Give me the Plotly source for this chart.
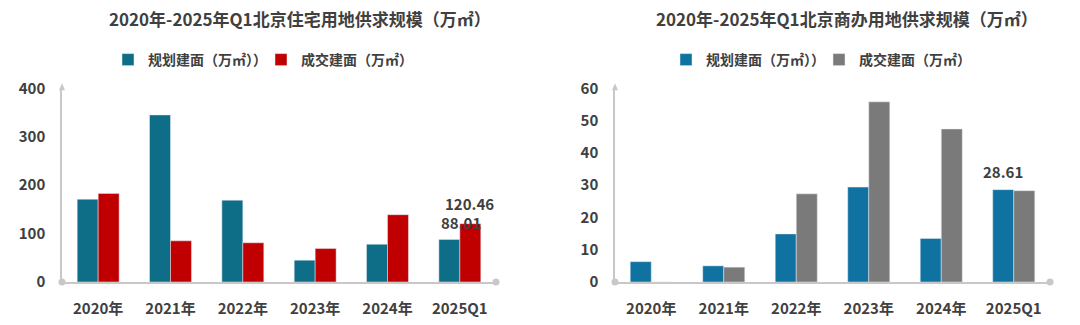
import plotly.graph_objects as go

categories = ["2020年", "2021年", "2022年", "2023年", "2024年", "2025Q1"]
res_plan = [171, 345, 169, 45, 78, 88.01]
res_deal = [183, 85, 81, 69, 139, 120.46]
com_plan = [6.3, 5.0, 14.9, 29.4, 13.5, 28.61]
com_deal = [0, 4.6, 27.3, 55.8, 47.4, 28.3]

title_left = "2020年-2025年Q1北京住宅用地供求规模（万㎡）"
title_right = "2020年-2025年Q1北京商办用地供求规模（万㎡）"
name_plan = "规划建面（万㎡））"
name_deal = "成交建面（万㎡）"

TXT = "#404040"
FONT = "Noto Sans CJK SC"
AX = "#c8c8c8"

fig = go.Figure()
fig.add_trace(go.Bar(x=categories, y=res_plan, name=name_plan, marker_color="#0e6e88",
                     xaxis="x", yaxis="y", legend="legend"))
fig.add_trace(go.Bar(x=categories, y=res_deal, name=name_deal, marker_color="#c00000",
                     xaxis="x", yaxis="y", legend="legend"))
fig.add_trace(go.Bar(x=categories, y=com_plan, name=name_plan, marker_color="#0f72a0",
                     xaxis="x2", yaxis="y2", legend="legend2"))
fig.add_trace(go.Bar(x=categories, y=com_deal, name=name_deal, marker_color="#7a7a7a",
                     xaxis="x2", yaxis="y2", legend="legend2"))

H = 325.0
W = 1080.0
y0 = 1 - 282 / H
y1 = 1 - 88.3 / H

tickfont = dict(family=FONT, size=15, color=TXT, weight="bold")
xcommon = dict(type="category", range=[-0.5, 5.5], showline=True, linecolor=AX, linewidth=1.5,
               ticks="", tickfont=tickfont, showgrid=False, zeroline=False, fixedrange=True,
               automargin=False, ticklabelstandoff=12)
ycommon = dict(showline=True, linecolor=AX, linewidth=1.5, ticks="", tickfont=tickfont,
               showgrid=False, zeroline=False, domain=[y0, y1], automargin=False,
               ticklabelstandoff=12)

legfont = dict(family=FONT, size=14, color=TXT, weight="bold")

fig.update_layout(
    width=1080, height=325,
    margin=dict(l=0, r=0, t=0, b=0, autoexpand=False),
    paper_bgcolor="white", plot_bgcolor="white",
    barmode="group", bargap=0.42, bargroupgap=0,
    xaxis=dict(xcommon, domain=[62 / W, 496 / W], anchor="y"),
    yaxis=dict(ycommon, range=[0, 400], dtick=100, anchor="x"),
    xaxis2=dict(xcommon, domain=[615 / W, 1050 / W], anchor="y2"),
    yaxis2=dict(ycommon, range=[0, 60], dtick=10, anchor="x2"),
    legend=dict(orientation="h", x=108 / W, y=1 - 60 / H, xanchor="left", yanchor="middle",
                font=legfont, entrywidth=108, entrywidthmode="pixels", bgcolor="rgba(0,0,0,0)",
                itemclick=False),
    legend2=dict(orientation="h", x=666 / W, y=1 - 60 / H, xanchor="left", yanchor="middle",
                 font=legfont, entrywidth=108, entrywidthmode="pixels", bgcolor="rgba(0,0,0,0)",
                 itemclick=False),
    showlegend=True,
)

titlefont = dict(family=FONT, size=17, color=TXT, weight="bold")
fig.add_annotation(text=title_left, x=300 / W, y=1 - 19 / H, xref="paper", yref="paper",
                   showarrow=False, font=titlefont, xanchor="center", yanchor="middle")
fig.add_annotation(text=title_right, x=847 / W, y=1 - 19 / H, xref="paper", yref="paper",
                   showarrow=False, font=titlefont, xanchor="center", yanchor="middle")

lblfont = dict(family=FONT, size=15, color=TXT, weight="bold")
fig.add_annotation(text=f"{res_plan[-1]:.2f}", x=categories[-1], y=res_plan[-1], xref="x", yref="y",
                   showarrow=False, font=lblfont, xanchor="center", yanchor="bottom",
                   xshift=1, yshift=4)
fig.add_annotation(text=f"{res_deal[-1]:.2f}", x=categories[-1], y=res_deal[-1], xref="x", yref="y",
                   showarrow=False, font=lblfont, xanchor="center", yanchor="bottom",
                   xshift=10, yshift=8)
fig.add_annotation(text=f"{com_plan[-1]:.2f}", x=categories[-1], y=com_plan[-1], xref="x2", yref="y2",
                   showarrow=False, font=lblfont, xanchor="center", yanchor="bottom",
                   xshift=-11, yshift=6)

# axis end decorations (dots and arrowhead)
for xr, yr in (("x", "y"), ("x2", "y2")):
    for (xx, yy) in ((0, 0), (1, 0)):
        fig.add_shape(type="circle", xref=f"{xr} domain", yref=f"{yr} domain",
                      xsizemode="pixel", ysizemode="pixel", xanchor=xx, yanchor=yy,
                      x0=-3.5, x1=3.5, y0=-3.5, y1=3.5,
                      fillcolor=AX, line=dict(width=0))
    fig.add_shape(type="path", xref=f"{xr} domain", yref=f"{yr} domain",
                  xsizemode="pixel", ysizemode="pixel", xanchor=0, yanchor=1,
                  path="M -3,-2 L 3,-2 L 0,5 Z", fillcolor=AX, line=dict(width=0))

fig.write_html("out.html")
